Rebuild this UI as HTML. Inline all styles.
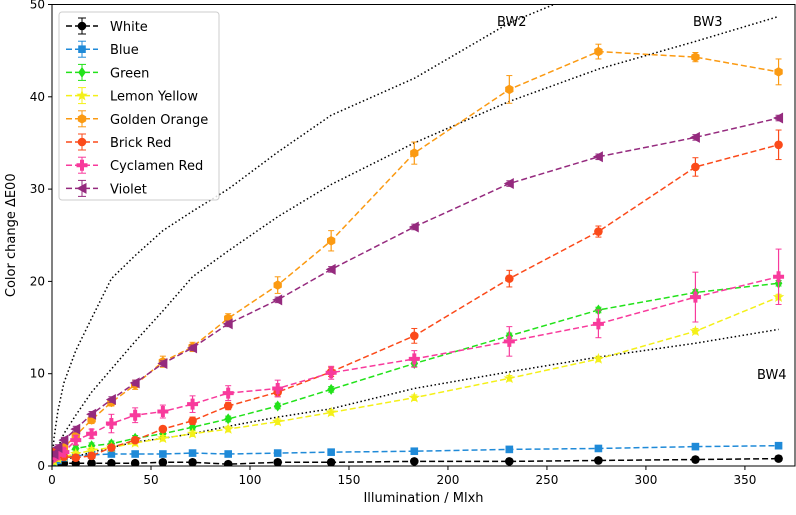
<!DOCTYPE html>
<html><head><meta charset="utf-8"><style>
body{margin:0;background:#fff;font-family:"DejaVu Sans","Liberation Sans",sans-serif}
svg text{font-family:"DejaVu Sans","Liberation Sans",sans-serif}
</style></head><body>
<svg id="chart" width="796" height="511" xmlns="http://www.w3.org/2000/svg"></svg>
<script>
const xTicks=[0,50,100,150,200,250,300,350];
const yTicks=[0,10,20,30,40,50];
const xs=[0,1,3,6,12,20,30,42,56,71,89,114,141,183,231,276,325,367];
const white=[0,0.2,0.2,0.3,0.3,0.3,0.3,0.3,0.4,0.4,0.2,0.4,0.4,0.5,0.5,0.6,0.7,0.8];
const blue=[0,0.4,0.6,0.9,1.1,1.2,1.3,1.3,1.3,1.4,1.3,1.4,1.5,1.6,1.8,1.9,2.1,2.2];
const green=[0,0.6,1.0,1.5,1.9,2.2,2.4,3.0,3.5,4.2,5.1,6.5,8.3,11.1,14.1,16.9,18.8,19.8];
const yellow=[0,0.5,0.8,1.0,1.3,1.7,2.0,2.5,3.0,3.5,4.0,4.8,5.8,7.4,9.5,11.6,14.6,18.3];
const orange=[0,0.8,1.2,2.0,3.3,5.0,6.9,8.8,11.3,12.9,16.0,19.6,24.4,33.9,40.8,44.9,44.3,42.7];
const brick=[0,1.5,1.2,1.0,0.9,1.1,2.0,2.8,4.0,4.9,6.5,8.0,10.2,14.1,20.3,25.4,32.4,34.8];
const cyclamen=[0,1.0,1.2,1.5,2.8,3.5,4.6,5.5,5.9,6.7,7.9,8.4,10.1,11.6,13.5,15.4,18.3,20.5];
const violet=[0,1.3,2.0,2.8,4.0,5.6,7.2,9.0,11.1,12.8,15.4,18.0,21.3,25.9,30.6,33.5,35.6,37.7];
const errSmall=[0,0.3,0.3,0.3,0.3,0.3,0.3,0.3,0.3,0.3,0.3,0.3,0.3,0.3,0.3,0.3,0.3,0.3];
const errOrange=[0,0.3,0.3,0.3,0.4,0.4,0.4,0.5,0.6,0.5,0.5,0.9,1.1,1.2,1.5,0.8,0.5,1.4];
const errBrick=[0,0.3,0.3,0.3,0.3,0.3,0.3,0.3,0.3,0.4,0.4,0.5,0.5,0.8,0.9,0.6,1.0,1.6];
const errCyc=[0,0.4,0.4,0.4,0.5,0.5,1.0,0.8,0.7,0.9,0.8,0.9,0.7,0.9,1.6,1.5,2.7,3.0];
const bwX=[0,1,3,6,12,20,30,42,56,71,89,114,141,183,231,276,325,367];
const bw2=[0,3,6,9,12.5,16,20.3,22.8,25.5,27.6,30,34,38,42,48,52,56,60];
const bw3=[0,1,2,3.5,5.5,8,10.5,13.5,16.8,20.5,23.3,27,30.5,35,39.5,43,46,48.7];
const bw4=[0,0.2,0.4,0.7,1.0,1.5,2.0,2.6,3.0,3.5,4.3,5.3,6.2,8.4,10.2,11.8,13.3,14.8];
const L=52,R=795,T=4.5,B=466,XMAX=375.3,YMAX=50;
const X=v=>L+v/XMAX*(R-L), Y=v=>B-v/YMAX*(B-T);
const svg=document.getElementById('chart');const NS='http://www.w3.org/2000/svg';
function el(t,a,p){const e=document.createElementNS(NS,t);for(const k in a)e.setAttribute(k,a[k]);(p||svg).appendChild(e);return e;}
const defs=el('clipPath',{id:'clip'});el('rect',{x:L,y:T,width:R-L,height:B-T},defs);
xTicks.forEach(t=>{const g=el('g',{});
el('line',{x1:X(t),x2:X(t),y1:B,y2:B+4,stroke:'#000'},g);const tx=el('text',{x:X(t),y:B+18,'text-anchor':'middle','font-size':12},g);tx.textContent=t;});
yTicks.forEach(t=>{const g=el('g',{});
el('line',{x1:L-4,x2:L,y1:Y(t),y2:Y(t),stroke:'#000'},g);const tx=el('text',{x:L-7,y:Y(t)+4,'text-anchor':'end','font-size':12},g);tx.textContent=t;});
const xl=el('text',{x:(L+R)/2,y:502,'text-anchor':'middle','font-size':13});xl.textContent='Illumination / Mlxh';

const yl=el('text',{x:0,y:0,'text-anchor':'middle','font-size':13,transform:`translate(15,${(T+B)/2}) rotate(-90)`});yl.textContent='Color change ΔE00';

const plot=el('g',{'clip-path':'url(#clip)'});
[[bw2,'bw2'],[bw3,'bw3'],[bw4,'bw4']].forEach(([d,n])=>{const p=el('polyline',{points:bwX.map((x,i)=>X(x)+','+Y(d[i])).join(' '),fill:'none',stroke:'#000','stroke-width':1.5,'stroke-dasharray':'1.5,2.5'},plot);
});
[['BW2',497,26],['BW3',693,26],['BW4',757,379]].forEach(([s,x,y])=>{const t=el('text',{x:x,y:y,'font-size':13});t.textContent=s;
});
function marker(g,shape,x,y,c){
 if(shape==='circle')el('circle',{cx:x,cy:y,r:4.3,fill:c},g);
 else if(shape==='square')el('rect',{x:x-3.8,y:y-3.8,width:7.6,height:7.6,fill:c},g);
 else if(shape==='diamond')el('polygon',{points:`${x},${y-5.5} ${x+3.8},${y} ${x},${y+5.5} ${x-3.8},${y}`,fill:c},g);
 else if(shape==='star')el('polygon',{points:[0,1,2,3,4,5,6,7,8,9].map(i=>{const r=i%2?2.4:6,a=-Math.PI/2+i*Math.PI/5;return (x+r*Math.cos(a))+','+(y+r*Math.sin(a));}).join(' '),fill:c},g);
 else if(shape==='hex')el('polygon',{points:[0,1,2,3,4,5].map(i=>{const a=Math.PI/6+i*Math.PI/3;return (x+4.8*Math.cos(a))+','+(y+4.8*Math.sin(a));}).join(' '),fill:c},g);
 else if(shape==='plus')el('path',{d:`M${x-2},${y-5.5}h4v3.5h3.5v4h-3.5v3.5h-4v-3.5h-3.5v-4h3.5z`,fill:c},g);
 else if(shape==='tri')el('polygon',{points:`${x-5.5},${y} ${x+4.5},${y-5.5} ${x+4.5},${y+5.5}`,fill:c},g);
}
const series=[
['White','#000000',white,errSmall,'circle'],['Blue','#1f8ad8',blue,errSmall,'square'],['Green','#22e21a',green,errSmall,'diamond'],
['Lemon Yellow','#f4f018',yellow,errSmall,'star'],['Golden Orange','#fb9a12',orange,errOrange,'hex'],['Brick Red','#fb4a1a',brick,errBrick,'circle'],
['Cyclamen Red','#f83a9c',cyclamen,errCyc,'plus'],['Violet','#952a7e',violet,errSmall,'tri']];
series.forEach(([name,c,d,e,sh])=>{const g=el('g',{},plot);
 el('polyline',{points:xs.map((x,i)=>X(x)+','+Y(d[i])).join(' '),fill:'none',stroke:c,'stroke-width':1.5,'stroke-dasharray':'6,3'},g);
 xs.forEach((x,i)=>{if(i===0)return;const px=X(x);el('line',{x1:px,x2:px,y1:Y(d[i]-e[i]),y2:Y(d[i]+e[i]),stroke:c,'stroke-width':1.2},g);
  el('line',{x1:px-3,x2:px+3,y1:Y(d[i]-e[i]),y2:Y(d[i]-e[i]),stroke:c},g);el('line',{x1:px-3,x2:px+3,y1:Y(d[i]+e[i]),y2:Y(d[i]+e[i]),stroke:c},g);
  marker(g,sh,px,Y(d[i]),c);});
});
el('rect',{x:L,y:T,width:R-L,height:B-T,fill:'none',stroke:'#000','stroke-width':1});
const lg=el('g',{});
el('rect',{x:59,y:12,width:160,height:188,rx:3,fill:'#fff','fill-opacity':0.85,stroke:'#ccc'},lg);
series.forEach(([name,c,d,e,sh],i)=>{const y=26+i*23.2;const g=el('g',{},lg);
 el('line',{x1:66,x2:98,y1:y,y2:y,stroke:c,'stroke-width':1.5,'stroke-dasharray':'6,3'},g);
 el('line',{x1:82,x2:82,y1:y-8,y2:y+8,stroke:c},g);el('line',{x1:78,x2:86,y1:y-8,y2:y-8,stroke:c},g);el('line',{x1:78,x2:86,y1:y+8,y2:y+8,stroke:c},g);
 marker(g,sh,82,y,c);const t=el('text',{x:110,y:y+5,'font-size':13},g);t.textContent=name;});
</script>
</body></html>
